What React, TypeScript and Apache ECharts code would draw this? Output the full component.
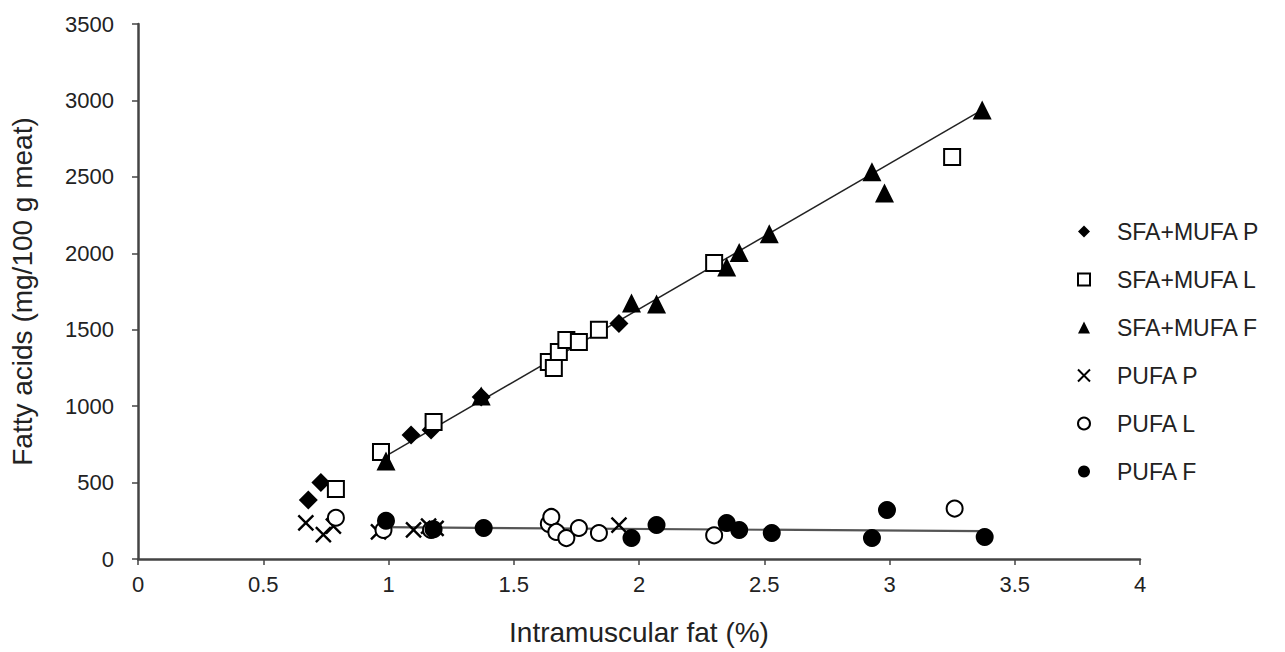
import React, { useEffect, useRef } from "react";
import * as echarts from "echarts";

const seriesNames = ["SFA+MUFA P", "SFA+MUFA L", "SFA+MUFA F", "PUFA P", "PUFA L", "PUFA F"];

const sfaMufaP = [[0.68, 386], [0.73, 500], [1.09, 811], [1.17, 844], [1.37, 1060], [1.92, 1540]];
const sfaMufaL = [[0.79, 458], [0.97, 700], [1.18, 897], [1.64, 1289], [1.66, 1250], [1.68, 1355], [1.71, 1433], [1.76, 1420], [1.84, 1499], [2.3, 1937], [3.25, 2630]];
const sfaMufaF = [[0.99, 641], [1.37, 1067], [1.97, 1675], [2.07, 1668], [2.35, 1910], [2.4, 2005], [2.52, 2127], [2.93, 2533], [2.98, 2395], [3.37, 2938]];
const pufaP = [[0.67, 236], [0.74, 160], [0.78, 215], [0.96, 177], [1.1, 190], [1.16, 215], [1.19, 200], [1.92, 222]];
const pufaL = [[0.79, 270], [0.98, 190], [1.17, 190], [1.64, 230], [1.65, 275], [1.67, 177], [1.71, 137], [1.76, 203], [1.84, 170], [2.3, 155], [3.26, 330]];
const pufaF = [[0.99, 250], [1.18, 195], [1.38, 203], [1.97, 137], [2.07, 222], [2.35, 236], [2.4, 190], [2.53, 170], [2.93, 137], [2.99, 321], [3.38, 144]];

const fitSfaMufa = [[0.97, 655], [3.37, 2938]];
const fitPufa = [[0.97, 208], [3.37, 182]];

const FONT = "'Liberation Sans', Arial, sans-serif";

export default function App() {
  const ref = useRef<HTMLDivElement>(null);
  useEffect(() => {
    if (!ref.current) return;
    const chart = echarts.init(ref.current, null, { renderer: "svg" });
    const black = "#000";
    const filled = (name: string, symbol: string, size: number, data: number[][]) => ({
      name, type: "scatter", symbol, symbolSize: size, data, z: 5,
      itemStyle: { color: black, opacity: 1 },
    });
    const hollow = (name: string, symbol: string, size: number, data: number[][]) => ({
      name, type: "scatter", symbol, symbolSize: size, data, z: 5,
      itemStyle: { color: "#fff", borderColor: black, borderWidth: 2, opacity: 1 },
    });
    const cross = (name: string, size: number, data: number[][]) => ({
      name, type: "scatter", symbol: "path://M0,0L10,10M10,0L0,10", symbolSize: size, data, z: 5,
      itemStyle: { color: "rgba(0,0,0,0)", borderColor: black, borderWidth: 2.4, opacity: 1 },
    });
    chart.setOption({
      animation: false,
      backgroundColor: "#fff",
      grid: { left: 138, right: 145, top: 24, bottom: 93, containLabel: false, outerBoundsMode: "none" },
      legend: {
        data: seriesNames,
        orient: "vertical",
        left: 1072,
        top: 215,
        itemWidth: 12,
        itemHeight: 12,
        itemGap: 25,
        textStyle: { fontFamily: FONT, fontSize: 23, color: "#222", padding: [0, 0, 0, 22], lineHeight: 21 },
      },
      xAxis: {
        type: "value",
        min: 0,
        max: 4,
        interval: 0.5,
        name: "Intramuscular fat (%)",
        nameLocation: "middle",
        nameGap: 58,
        nameTextStyle: { fontFamily: FONT, fontSize: 28, color: "#222", lineHeight: 30 },
        axisLine: { show: true, lineStyle: { color: "#444", width: 2.5 } },
        axisTick: { show: true, length: 6, lineStyle: { color: "#444", width: 1.5 } },
        axisLabel: { fontFamily: FONT, fontSize: 22, color: "#222", margin: 14 },
        splitLine: { show: false },
      },
      yAxis: {
        type: "value",
        min: 0,
        max: 3500,
        interval: 500,
        name: "Fatty acids (mg/100 g meat)",
        nameLocation: "middle",
        nameGap: 102,
        nameTextStyle: { fontFamily: FONT, fontSize: 28, color: "#222" },
        axisLine: { show: true, lineStyle: { color: "#444", width: 2.5 } },
        axisTick: { show: true, length: 6, lineStyle: { color: "#444", width: 1.5 } },
        axisLabel: { fontFamily: FONT, fontSize: 22, color: "#222", margin: 24, formatter: (v: number) => String(v) },
        splitLine: { show: false },
      },
      series: [
        { name: "fit1", type: "line", data: fitSfaMufa, symbol: "none", z: 3, lineStyle: { color: "#222", width: 1.5 } },
        { name: "fit2", type: "line", data: fitPufa, symbol: "none", z: 3, lineStyle: { color: "#555", width: 2.2 } },
        filled(seriesNames[0], "diamond", 19, sfaMufaP),
        hollow(seriesNames[1], "rect", 16, sfaMufaL),
        filled(seriesNames[2], "triangle", 19, sfaMufaF),
        cross(seriesNames[3], 15, pufaP),
        hollow(seriesNames[4], "circle", 16, pufaL),
        filled(seriesNames[5], "circle", 18, pufaF),
      ],
    });
    return () => chart.dispose();
  }, []);
  return <div ref={ref} style={{ width: 1285, height: 652, position: "absolute", left: 0, top: 0 }} />;
}
